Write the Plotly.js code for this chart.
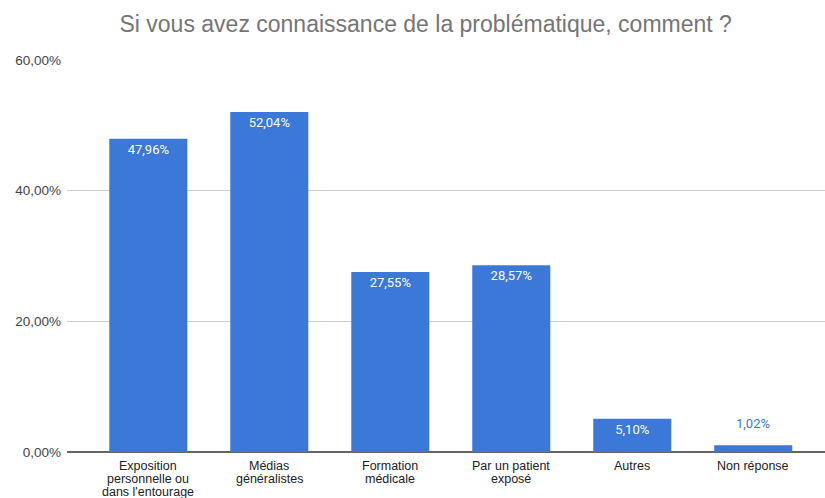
<!DOCTYPE html>
<html><head><meta charset="utf-8">
<script src="https://cdn.plot.ly/plotly-3.0.1.min.js"></script>
<style>html,body{margin:0;padding:0;background:#fff}#c{width:825px;height:498px}</style>
</head><body><div id="c"></div>
<script>
const categories = ["Exposition personnelle ou dans l'entourage","Médias généralistes","Formation médicale","Par un patient exposé","Autres","Non réponse"];
const categoryLines = [["Exposition","personnelle ou","dans l'entourage"],["Médias","généralistes"],["Formation","médicale"],["Par un patient","exposé"],["Autres"],["Non réponse"]];
const values = [47.96, 52.04, 27.55, 28.57, 5.10, 1.02];
const yTickVals = [0, 20, 40, 60];
const yTickText = ["0,00%", "20,00%", "40,00%", "60,00%"];

const barColor = '#3c78d8';
const fmt = v => v.toFixed(2).replace('.', ',') + '%';
const isInside = values.map(v => v >= 3);

const trace = {
  type: 'bar', x: categories, y: values,
  marker: {color: barColor},
  text: values.map((v, i) => isInside[i] ? fmt(v) : ''),
  textposition: 'inside',
  insidetextanchor: 'end',
  textangle: 0,
  constraintext: 'none',
  textfont: {family: 'Roboto, Arial, sans-serif', size: 13, color: '#ffffff'},
  hoverinfo: 'none'
};

const annotations = [];
categoryLines.forEach((lines, i) => {
  lines.forEach((ln, j) => {
    annotations.push({x: categories[i], xref: 'x', y: 0, yref: 'paper', text: ln, showarrow: false,
      xanchor: 'center', yanchor: 'middle', yshift: -(13.5 + j * 13.2), borderpad: 0,
      font: {family: 'Liberation Sans, Arial, sans-serif', size: 12.5, color: '#222'}});
  });
});
values.forEach((v, i) => {
  if (!isInside[i]) {
    annotations.push({x: categories[i], xref: 'x', y: v, yref: 'y', text: fmt(v), showarrow: false,
      xanchor: 'center', yanchor: 'bottom', yshift: 12,
      font: {family: 'Roboto, Arial, sans-serif', size: 13, color: barColor}});
  }
});

const layout = {
  width: 825, height: 498,
  margin: {l: 67, r: 0, t: 60, b: 46},
  paper_bgcolor: '#fff', plot_bgcolor: '#fff',
  bargap: 0.355,
  showlegend: false,
  title: {text: 'Si vous avez connaissance de la problématique, comment ?', x: 0.516, xanchor: 'center', y: 0.951, yanchor: 'middle',
    font: {family: 'Liberation Sans, Arial, sans-serif', size: 23, color: '#757575'}},
  xaxis: {range: [-0.672, 5.593], showticklabels: false,
    showgrid: false, zeroline: false, showline: false, ticks: '', fixedrange: true},
  yaxis: {range: [0, 60], tickvals: yTickVals, ticktext: yTickText,
    tickfont: {family: 'Liberation Sans, Arial, sans-serif', size: 13.5, color: '#444'},
    gridcolor: '#d0d0d0', gridwidth: 1, zeroline: true, zerolinecolor: '#666666', zerolinewidth: 2,
    showline: false, ticks: '', ticklabelstandoff: 5, fixedrange: true},
  annotations: annotations
};
Plotly.newPlot('c', [trace], layout, {displayModeBar: false, staticPlot: true});
</script>
</body></html>
